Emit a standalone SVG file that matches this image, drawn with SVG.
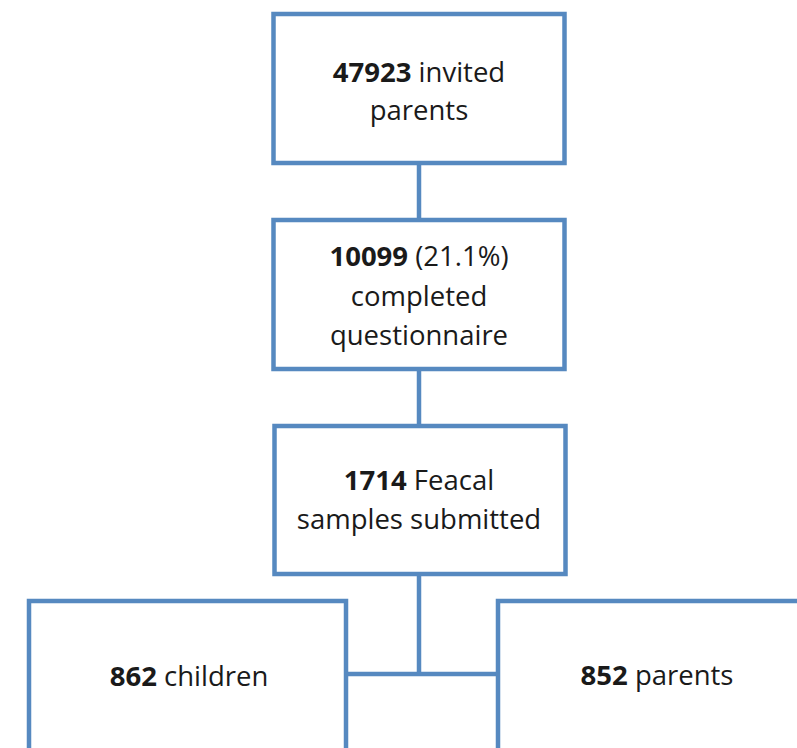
<svg xmlns="http://www.w3.org/2000/svg" width="797" height="748" viewBox="0 0 797 748">
<style>
.box{fill:#fff;stroke:#5689c0;stroke-width:4.5}
.con{fill:none;stroke:#5689c0;stroke-width:4.5}
text{font-family:"Open Sans","Liberation Sans",sans-serif;font-size:27.5px;fill:#1a1a1a;text-anchor:middle}
.b{font-weight:bold}
</style>
<rect width="797" height="748" fill="#fff"/>
<g id="connectors">
<line class="con" x1="419" y1="163" x2="419" y2="220"/>
<line class="con" x1="419" y1="369" x2="419" y2="426"/>
<line class="con" x1="419" y1="574" x2="419" y2="674"/>
<line class="con" x1="346" y1="674" x2="498" y2="674"/>
</g>
<g id="n1">
<rect class="box" x="273.5" y="14" width="291" height="149"/>
<text x="419" y="82"><tspan class="b">47923</tspan> invited</text>
<text x="419" y="120">parents</text>
</g>
<g id="n2">
<rect class="box" x="273.5" y="220" width="291" height="149"/>
<text x="419" y="266"><tspan class="b">10099</tspan> (21.1%)</text>
<text x="419" y="306">completed</text>
<text x="419" y="345">questionnaire</text>
</g>
<g id="n3">
<rect class="box" x="274.5" y="426" width="291" height="148"/>
<text x="419" y="490"><tspan class="b">1714</tspan> Feacal</text>
<text x="419" y="529">samples submitted</text>
</g>
<g id="n4">
<rect class="box" x="29" y="601" width="317" height="200"/>
<text x="189" y="686"><tspan class="b">862</tspan> children</text>
</g>
<g id="n5">
<rect class="box" x="498" y="601" width="340" height="200"/>
<text x="657" y="685"><tspan class="b">852</tspan> parents</text>
</g>
</svg>
